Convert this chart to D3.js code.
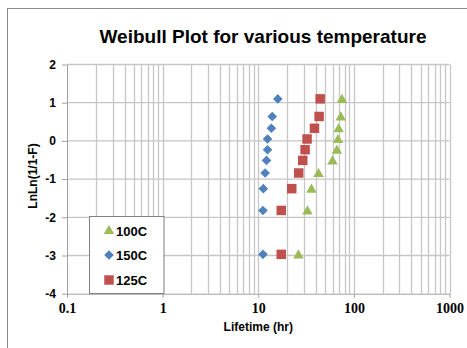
<!DOCTYPE html>
<html><head><meta charset="utf-8">
<script src="https://cdn.jsdelivr.net/npm/d3@7"></script>
<style>body{margin:0;background:#fff}svg{display:block}</style>
</head><body>
<svg id="c" width="467" height="348"></svg>
<script>
const yRanks = [-2.97, -1.82, -1.25, -0.84, -0.51, -0.23, 0.05, 0.33, 0.64, 1.10];
const life100C = [26.3, 32.7, 36.0, 42.7, 59.8, 66.4, 68.3, 69.3, 73.0, 75.0];
const life150C = [11.2, 11.2, 11.3, 11.8, 12.2, 12.5, 12.5, 13.7, 14.0, 16.0];
const life125C = [17.4, 17.4, 22.4, 26.5, 29.2, 30.9, 32.4, 38.7, 43.3, 44.4];
const xTicks = [0.1, 1, 10, 100, 1000];
const yTicks = [-4, -3, -2, -1, 0, 1, 2];
const seriesNames = ["100C", "150C", "125C"];
const colors = {"100C": "#9BBB59", "150C": "#4F81BD", "125C": "#C0504D"};

const svg = d3.select("#c");
// outer frame
svg.append("rect").attr("x", 7.5).attr("y", 8.5).attr("width", 470).attr("height", 350)
  .attr("fill", "none").attr("stroke", "#8c8c8c").attr("stroke-width", 1);

const L = 67, R = 449.5, T = 64.5, B = 293.7;
const x = d3.scaleLog().domain([0.1, 1000]).range([L, R]);
const y = d3.scaleLinear().domain([-4, 2]).range([B, T]);

// vertical gridlines (major + minor)
const gridX = [];
for (let e = -1; e < 3; e++) for (let m = 1; m <= 9; m++) gridX.push(m * Math.pow(10, e));
gridX.push(1000);
svg.append("g").selectAll("line").data(gridX.filter(v => v > 0.1)).join("line")
  .attr("x1", d => Math.round(x(d)) + 0.5).attr("x2", d => Math.round(x(d)) + 0.5)
  .attr("y1", T).attr("y2", B)
  .attr("stroke", "#c6c6c6").attr("stroke-width", 1.3);
// horizontal gridlines
svg.append("g").selectAll("line").data(yTicks.filter(v => v > -4)).join("line")
  .attr("x1", L).attr("x2", R)
  .attr("y1", d => y(d)).attr("y2", d => y(d))
  .attr("stroke", "#c6c6c6").attr("stroke-width", 1.3);

// y axis
const ya = svg.append("g").attr("transform", `translate(${L},0)`)
  .call(d3.axisLeft(y).tickValues(yTicks).tickSize(5).tickSizeOuter(0).tickPadding(6).tickFormat(d => String(d)));
ya.select(".domain").attr("stroke", "#a0a0a0");
ya.selectAll(".tick line").attr("stroke", "#a0a0a0");
ya.selectAll("text").attr("font-family", "Liberation Sans, Arial, sans-serif")
  .attr("font-weight", "bold").attr("font-size", 12).attr("fill", "#000");

// x axis
const xa = svg.append("g").attr("transform", `translate(0,${B})`)
  .call(d3.axisBottom(x).tickValues(xTicks).tickSize(4).tickSizeOuter(0).tickPadding(5)
    .tickFormat(d => String(d)));
xa.select(".domain").attr("stroke", "#a0a0a0");
xa.selectAll(".tick line").attr("stroke", "#a0a0a0");
xa.selectAll("text").attr("font-family", "Liberation Serif, Times New Roman, serif")
  .attr("font-weight", "bold").attr("font-size", 14).attr("fill", "#000");

// title
svg.append("text").attr("x", 263).attr("y", 43).attr("text-anchor", "middle")
  .attr("font-family", "Liberation Sans, Arial, sans-serif").attr("font-weight", "bold")
  .attr("font-size", 19).attr("fill", "#000").text("Weibull Plot for various temperature");
// axis titles
svg.append("text").attr("x", x(10)).attr("y", 331).attr("text-anchor", "middle")
  .attr("font-family", "Liberation Sans, Arial, sans-serif").attr("font-weight", "bold")
  .attr("font-size", 12).attr("fill", "#000").text("Lifetime (hr)");
svg.append("text").attr("transform", "translate(37,176) rotate(-90)").attr("text-anchor", "middle")
  .attr("font-family", "Liberation Sans, Arial, sans-serif").attr("font-weight", "bold")
  .attr("font-size", 12).attr("fill", "#000").text("LnLn(1/1-F)");

const shapes = {"100C": d3.symbolTriangle, "150C": d3.symbolSquare, "125C": d3.symbolSquare};
const sizes = {"100C": 48, "150C": 46, "125C": 90};
const rot = {"100C": 0, "150C": 45, "125C": 0};
const dataBy = {"100C": life100C, "150C": life150C, "125C": life125C};
const sym = k => d3.symbol().type(shapes[k]).size(sizes[k])();

for (const k of ["125C", "150C", "100C"]) {
  svg.append("g").selectAll("path").data(dataBy[k].map((v, i) => [v, yRanks[i]])).join("path")
    .attr("transform", d => `translate(${x(d[0])},${y(d[1]) + (k === "100C" ? 1 : 0)}) rotate(${rot[k]})`)
    .attr("d", sym(k)).attr("fill", colors[k]);
}

// legend
const lg = svg.append("g");
lg.append("rect").attr("x", 89.5).attr("y", 216.5).attr("width", 74.5).attr("height", 77)
  .attr("fill", "#fff").attr("stroke", "#808080");
const legY = [231, 255, 280];
seriesNames.forEach((k, i) => {
  lg.append("path").attr("transform", `translate(109,${legY[i]}) rotate(${rot[k]})`).attr("d", sym(k)).attr("fill", colors[k]);
  lg.append("text").attr("x", 116).attr("y", legY[i] + 5).attr("font-family", "Liberation Sans, Arial, sans-serif")
    .attr("font-weight", "bold").attr("font-size", 13).attr("fill", "#000").text(k);
});
</script>
</body></html>
